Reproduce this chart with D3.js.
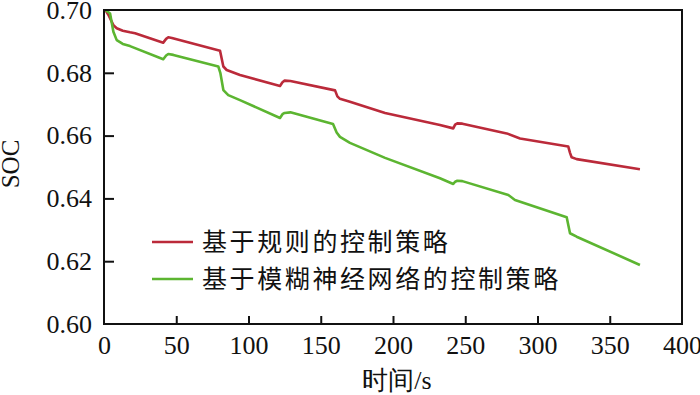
<!DOCTYPE html>
<html>
<head>
<meta charset="utf-8">
<script src="https://cdn.jsdelivr.net/npm/d3@7"></script>
<style>
  html, body { margin: 0; padding: 0; background: #fff; }
  svg { display: block; }
  .serif { font-family: "Liberation Serif", "Times New Roman", Times, "DejaVu Serif", serif; }
  .tick text { font-size: 26px; fill: #111; }
  .tick line { stroke: #111; stroke-width: 2; }
  .domain { display: none; }
</style>
</head>
<body>
<svg id="chart" width="700" height="395"></svg>
<script>
// time (s) and SOC for the rule-based strategy
const ruleTime = [1, 3, 6.5, 8.8, 13, 18, 21.5, 41, 43, 44.5, 47, 80.3, 82.6, 84.9, 94.1, 121.8, 123.5, 125, 129, 159.9, 161.5, 163.3, 170.2, 194.5, 232.5, 241.7, 243, 244.5, 248, 278.7, 287.9, 321.3, 322.5, 323.6, 327.1, 370.9];
const ruleSoc = [0.700, 0.6985, 0.6952, 0.6942, 0.6934, 0.6929, 0.6926, 0.6896, 0.6908, 0.6913, 0.6911, 0.6870, 0.6820, 0.6809, 0.6793, 0.6758, 0.6770, 0.6775, 0.6774, 0.6744, 0.6725, 0.6717, 0.6708, 0.6672, 0.6634, 0.6623, 0.6635, 0.6639, 0.6638, 0.6607, 0.6591, 0.6565, 0.6545, 0.6531, 0.6525, 0.6493];

// time (s) and SOC for the fuzzy neural network strategy
const fuzzyTime = [1, 4.2, 6.5, 8.8, 13, 18, 41, 43, 44.5, 48, 79.1, 80.5, 82.6, 86, 94.1, 121.8, 123.5, 125, 129, 158.5, 161, 163.3, 170.2, 194.5, 232.5, 241.7, 243, 244.5, 248, 279.8, 284.4, 320.2, 322.5, 327.1, 370.9];
const fuzzySoc = [0.700, 0.6989, 0.6931, 0.6904, 0.6892, 0.6885, 0.6843, 0.6855, 0.6860, 0.6857, 0.6820, 0.6800, 0.6745, 0.6729, 0.6713, 0.6656, 0.6668, 0.6672, 0.6674, 0.6637, 0.6610, 0.6596, 0.6577, 0.6529, 0.6464, 0.6446, 0.6453, 0.6456, 0.6455, 0.6411, 0.6395, 0.6340, 0.6289, 0.6278, 0.6188];

const xTicks = [0, 50, 100, 150, 200, 250, 300, 350, 400];
const yTicks = [0.60, 0.62, 0.64, 0.66, 0.68, 0.70];
const seriesNames = ["基于规则的控制策略", "基于模糊神经网络的控制策略"];
const seriesColors = ["#bb2a3a", "#5cb531"];

const svg = d3.select("#chart");
const margin = { top: 10, right: 18, bottom: 71, left: 104 };
const width = 700 - margin.left - margin.right;
const height = 395 - margin.top - margin.bottom;

const x = d3.scaleLinear().domain([0, 400]).range([0, width]);
const y = d3.scaleLinear().domain([0.60, 0.70]).range([height, 0]);

const g = svg.append("g").attr("transform", `translate(${margin.left},${margin.top})`);

const xAxis = g.append("g")
  .attr("transform", `translate(0,${height})`)
  .call(d3.axisBottom(x).tickValues(xTicks).tickSizeInner(-8).tickSizeOuter(0).tickPadding(12).tickFormat(d3.format("d")));
xAxis.attr("font-family", null).attr("font-size", null).attr("class", "serif");
xAxis.selectAll(".tick line").filter((d) => d === 0 || d === 400).remove();

const yAxis = g.append("g")
  .call(d3.axisLeft(y).tickValues(yTicks).tickSizeInner(-10).tickSizeOuter(0).tickPadding(12).tickFormat(d3.format(".2f")));
yAxis.attr("font-family", null).attr("font-size", null).attr("class", "serif");
yAxis.selectAll(".tick line").filter((d) => d === 0.60 || d === 0.70).remove();

const series = [
  { name: seriesNames[0], color: seriesColors[0], values: ruleTime.map((t, i) => [t, ruleSoc[i]]) },
  { name: seriesNames[1], color: seriesColors[1], values: fuzzyTime.map((t, i) => [t, fuzzySoc[i]]) },
];

const line = d3.line().x((d) => x(d[0])).y((d) => y(d[1]));

g.selectAll(".series")
  .data(series)
  .join("path")
  .attr("class", "series")
  .attr("fill", "none")
  .attr("stroke", (d) => d.color)
  .attr("stroke-width", 2.6)
  .attr("stroke-linejoin", "round")
  .attr("d", (d) => line(d.values));

// frame
g.append("rect")
  .attr("width", width)
  .attr("height", height)
  .attr("fill", "none")
  .attr("stroke", "#111")
  .attr("stroke-width", 2);

// legend
const legend = g.append("g").attr("transform", "translate(48,232)");
const legendRow = legend.selectAll("g")
  .data(series)
  .join("g")
  .attr("transform", (d, i) => `translate(0,${i * 37})`);

legendRow.append("line")
  .attr("x1", 0).attr("x2", 41)
  .attr("stroke", (d) => d.color)
  .attr("stroke-width", 2.6);

legendRow.append("text")
  .attr("x", 50)
  .attr("dy", "0.35em")
  .attr("font-family", "'Noto Sans CJK SC', sans-serif")
  .attr("font-size", 25)
  .attr("letter-spacing", 2.6)
  .attr("fill", "#111")
  .text((d) => d.name);

// axis titles
svg.append("text")
  .attr("class", "serif")
  .attr("x", margin.left + width / 2 + 4)
  .attr("y", 389)
  .attr("text-anchor", "middle")
  .attr("font-size", 26)
  .attr("fill", "#111")
  .text("时间/s");

svg.append("text")
  .attr("class", "serif")
  .attr("transform", `translate(19,164) rotate(-90)`)
  .attr("text-anchor", "middle")
  .attr("font-size", 25)
  .attr("fill", "#111")
  .text("SOC");
</script>
</body>
</html>
